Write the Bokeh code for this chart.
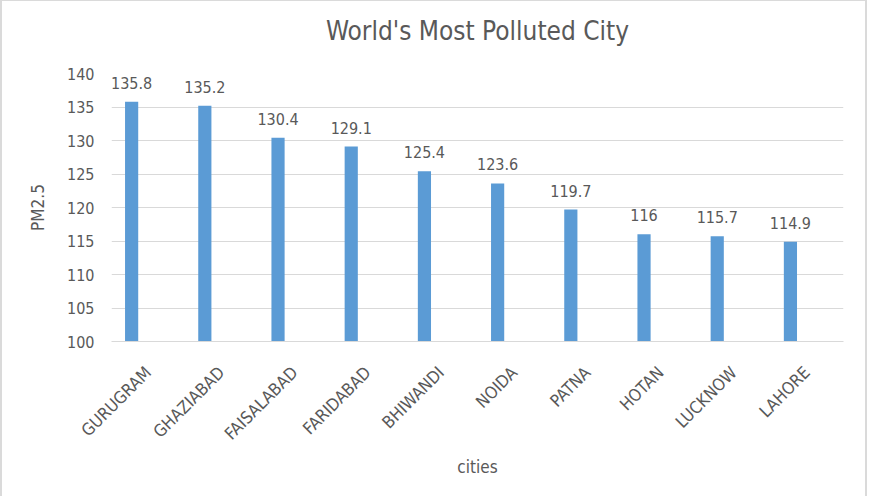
from bokeh.plotting import figure
from bokeh.models import FactorRange, ColumnDataSource, Range1d, FixedTicker, Title
from bokeh.transform import dodge
from bokeh.core.properties import value
from bokeh.embed import file_html
from bokeh.resources import INLINE
import math

cities = ["GURUGRAM", "GHAZIABAD", "FAISALABAD", "FARIDABAD", "BHIWANDI",
          "NOIDA", "PATNA", "HOTAN", "LUCKNOW", "LAHORE"]
pm25 = [135.8, 135.2, 130.4, 129.1, 125.4, 123.6, 119.7, 116, 115.7, 114.9]
labels = ["135.8", "135.2", "130.4", "129.1", "125.4", "123.6", "119.7", "116", "115.7", "114.9"]
y_ticks = [100, 105, 110, 115, 120, 125, 130, 135, 140]
title_text = "World's Most Polluted City"

FONT = "DejaVu Sans Condensed"
TXT = "#595959"
GRID = "#D9D9D9"
BAR = "#5B9BD5"

src = ColumnDataSource(dict(city=cities, val=pm25, lab=labels))

p = figure(width=876, height=496, x_range=FactorRange(factors=cities, range_padding=0),
           y_range=Range1d(100, 140), output_backend="svg", toolbar_location=None,
           min_border_left=111, min_border_right=33, min_border_top=73, min_border_bottom=155,
           title=title_text)
p.outline_line_color = None
p.border_fill_color = "white"
p.background_fill_color = "white"

p.vbar(x=dodge("city", -0.225, range=p.x_range), top="val", bottom=100, width=0.18,
       source=src, fill_color=BAR, line_color=None)
p.text(x=dodge("city", -0.225, range=p.x_range), y="val", text="lab", source=src,
       text_align="center", text_baseline="alphabetic", y_offset=-19,
       text_font=value(FONT), text_font_size="16px", text_color=TXT)

p.title.align = "center"
p.title.vertical_align = "top"
p.title.standoff = 0
p.title.text_font = FONT
p.title.text_font_size = "26px"
p.title.text_font_style = "normal"
p.title.text_color = TXT

# empty spacer between the frame and the title
spacer = Title(text=" ", standoff=18, text_font_size="6px")
p.add_layout(spacer, "above")

p.yaxis.ticker = FixedTicker(ticks=y_ticks)
p.yaxis.axis_line_color = None
p.yaxis.major_tick_line_color = None
p.yaxis.minor_tick_line_color = None
p.yaxis.major_label_text_font = FONT
p.yaxis.major_label_text_font_size = "16px"
p.yaxis.major_label_text_color = TXT
p.yaxis.major_label_standoff = 11
p.yaxis.axis_label = "PM2.5"
p.yaxis.axis_label_text_font = FONT
p.yaxis.axis_label_text_font_size = "17px"
p.yaxis.axis_label_text_font_style = "normal"
p.yaxis.axis_label_text_color = TXT
p.yaxis.axis_label_standoff = 16

p.xaxis.axis_line_color = GRID
p.xaxis.major_tick_line_color = None
p.xaxis.minor_tick_line_color = None
p.xaxis.major_label_orientation = math.pi / 4
p.xaxis.major_label_text_font = FONT
p.xaxis.major_label_text_font_size = "17px"
p.xaxis.major_label_text_color = TXT
p.xaxis.major_label_standoff = 22
p.xaxis.axis_label = "cities"
p.xaxis.axis_label_text_font = FONT
p.xaxis.axis_label_text_font_size = "17px"
p.xaxis.axis_label_text_font_style = "normal"
p.xaxis.axis_label_text_color = TXT
p.xaxis.axis_label_standoff = 3

p.xgrid.grid_line_color = None
p.ygrid.grid_line_color = GRID
p.ygrid.grid_line_width = 1

html = file_html(p, INLINE)
frame_div = ('<div style="position:absolute;left:0;top:0;width:867px;height:520px;'
             'box-sizing:border-box;border:2px solid #DADADA;border-top-width:1px;'
             'pointer-events:none;z-index:10"></div>')
html = html.replace("<body>", "<body style=\"margin:0;overflow:hidden;position:relative\">" + frame_div)
open("out.html", "w").write(html)
